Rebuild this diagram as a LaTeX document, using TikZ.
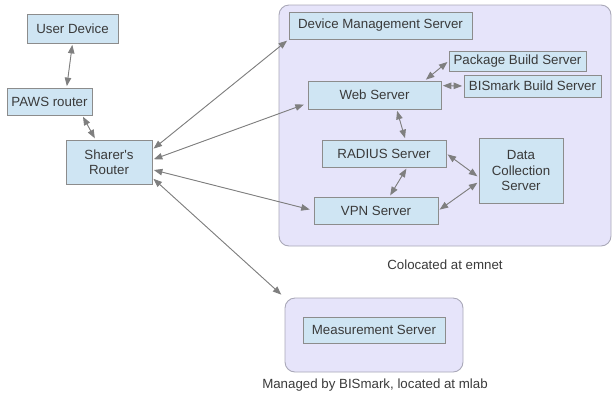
\documentclass[tikz,border=0pt]{standalone}
\usepackage{fontspec}
\setmainfont{Liberation Sans}
\usetikzlibrary{positioning}
\usetikzlibrary{arrows.meta}

\definecolor{boxfill}{HTML}{CFE5F3}
\definecolor{boxline}{HTML}{8C8C8C}
\definecolor{sitefill}{HTML}{E6E4FA}
\definecolor{siteline}{HTML}{A9A8B8}
\definecolor{linkgray}{HTML}{7F7F7F}
\definecolor{txt}{HTML}{3A3A3A}

\begin{document}
\begin{tikzpicture}[x=1pt,y=-1pt,>={Triangle[length=8.5pt,width=6.5pt]},
                every node/.style={text=txt,font=\fontsize{13.3}{15.5}\selectfont},
                srv/.style={rectangle,draw=boxline,fill=boxfill,line width=0.8pt,
                            inner sep=0pt,align=center},
                site/.style={draw=siteline,fill=sitefill,line width=0.9pt,rounded corners=10pt},
                link/.style={every edge/.style={draw=linkgray,fill=linkgray,line width=0.9pt,
                            <->,shorten >=1.5pt,shorten <=1.5pt}}]

  \useasboundingbox (0,0) rectangle (612,392);

  % hosting sites
  \path[site] (279,5) rectangle (611,246);
  \path[site] (285,298) rectangle (463,372);
  \node (emnet) at (445,265) {Colocated at emnet};
  \node (mlab) at (375,385) {Managed by BISmark, located at mlab};
  \coordinate (mbox) at (285,298);

  % home side
  \node[srv,minimum width=91pt,minimum height=29pt] (user) at (72.5,28.5) {User Device};
  \node[srv,minimum width=85pt,minimum height=27pt] (paws) at (49.5,101.5) {PAWS router};
  \node[srv,minimum width=86pt,minimum height=44pt] (sharer) at (109,162) {Sharer\textquotesingle s\\Router};

  % servers
  \node[srv,minimum width=183pt,minimum height=27pt] (dms) at (380.5,25.5) {Device Management Server};
  \node[srv,minimum width=137pt,minimum height=20pt] (pkg) at (517.5,61) {Package Build Server};
  \node[srv,minimum width=137pt,minimum height=22pt] (bis) at (532.5,86) {BISmark Build Server};
  \node[srv,minimum width=133pt,minimum height=28pt] (web) at (374.5,95) {Web Server};
  \node[srv,minimum width=124pt,minimum height=27pt] (radius) at (384,153.5) {RADIUS Server};
  \node[srv,minimum width=84pt,minimum height=65pt] (data) at (521,170.5) {Data\\Collection\\Server};
  \node[srv,minimum width=124pt,minimum height=27pt] (vpn) at (376,210.5) {VPN Server};
  \node[srv,minimum width=142pt,minimum height=26pt] (meas) at (374,330) {Measurement Server};

  \path[link]
    (user.south) edge (paws.39)
    (paws.-23) edge (sharer.121)
    (sharer.16) edge [shorten >=2pt] (dms.south west)
    (sharer.3) edge [shorten >=4pt] (web.187)
    (sharer.-10) edge [shorten >=4pt] (vpn.west)
    (sharer.-20) edge [shorten >=5pt] (mbox)
    (web.16) edge (pkg.west)
    (web.8) edge (bis.west)
    (web.-33) edge (radius.33)
    (radius.east) edge (data.189)
    (radius.-31) edge (vpn.46)
    (vpn.east) edge (data.195);
\end{tikzpicture}
\end{document}
